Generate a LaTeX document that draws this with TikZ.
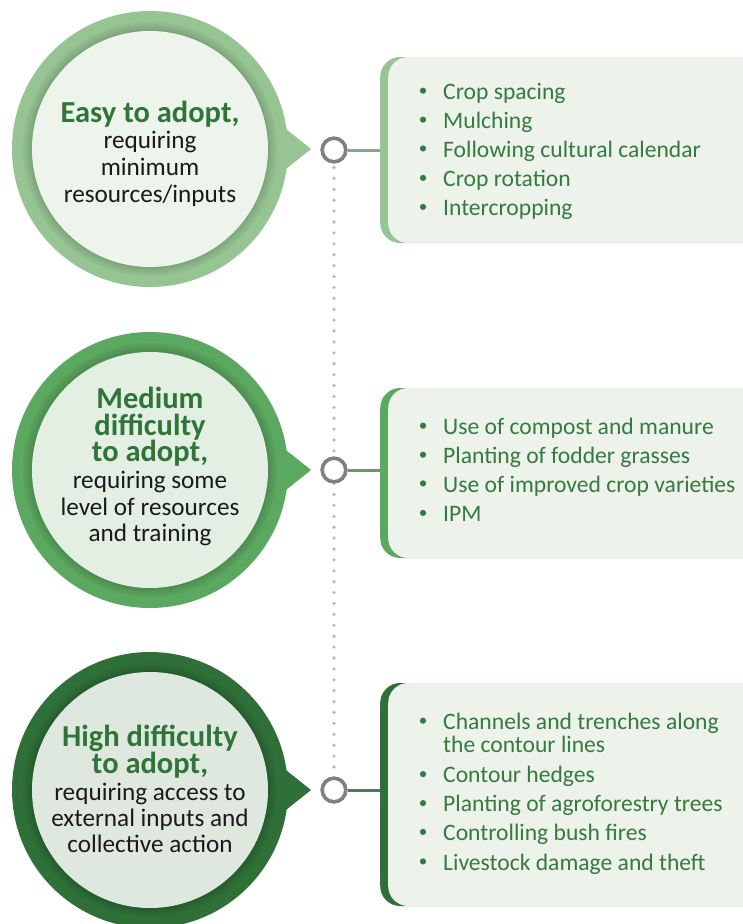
\documentclass[tikz,border=0pt]{standalone}
\usepackage{fontspec}
\setmainfont{Carlito}
\usetikzlibrary{calc}
\definecolor{ringA}{HTML}{96C493}
\definecolor{ringB}{HTML}{5BA860}
\definecolor{ringC}{HTML}{2F7038}
\definecolor{innerA}{HTML}{EDF4EC}
\definecolor{innerB}{HTML}{E3EFE2}
\definecolor{innerC}{HTML}{DFE8DE}
\definecolor{boxbg}{HTML}{EDF2EB}
\definecolor{hubgray}{HTML}{808080}
\definecolor{dotgray}{HTML}{B8B8B8}
\definecolor{tgreen}{HTML}{2F7538}
\definecolor{lgreen}{HTML}{357A3E}
\definecolor{tblack}{HTML}{1A1A1A}
\begin{document}
\begin{tikzpicture}[x=1pt,y=-1pt,
  ring/.style={circle, minimum size=276pt, inner sep=0pt, fill=#1},
  innerdisc/.style={circle, minimum size=236pt, inner sep=0pt, fill=#1},
  hub/.style={circle, minimum size=23.5pt, inner sep=0pt, draw=hubgray, line width=3.5pt, fill=white},
  panel/.style={rectangle, rounded corners=20pt, fill=#1, inner sep=0pt, minimum width=420pt, anchor=west,
    path picture={\fill[boxbg, rounded corners=20pt] ([xshift=8pt]path picture bounding box.south west) rectangle ([xshift=40pt]path picture bounding box.north east);}},
  link/.style={line width=3pt, draw=#1},
  dotline/.style={draw=dotgray, line width=3.6pt, line cap=round, dash pattern=on 0pt off 10.9pt},
  titletext/.style={anchor=base, inner sep=0pt, text=tgreen, font=\fontsize{30.5}{31}\selectfont\bfseries},
  bodytext/.style={anchor=base, inner sep=0pt, text=tblack, font=\fontsize{25.2}{26}\selectfont},
  itemtext/.style={anchor=base west, inner sep=0pt, text=lgreen, font=\fontsize{23.6}{28}\selectfont},
]
\useasboundingbox (0,0) rectangle (743,924);
\clip (0,0) rectangle (743,924);

% dotted spine
\node[hub] (h1) at (334,150) {};
\node[hub] (h2) at (334,470) {};
\node[hub] (h3) at (334,790) {};
\draw[dotline] ($(h1.south)+(0,4)$) -- (h3.north);

% panels
\node[panel=ringA, minimum height=186pt] (p1) at (380,150) {};
\node[panel=ringB, minimum height=170pt] (p2) at (380,473) {};
\node[panel=ringC, minimum height=223pt] (p3) at (380,794.5) {};

% connectors hub -> panel
\draw[link=hubgray!45!ringA] (h1.east) -- (h1.east -| p1.west);
\draw[link=hubgray!45!ringB] (h2.east) -- (h2.east -| p2.west);
\draw[link=hubgray!45!ringC] (h3.east) -- (h3.east -| p3.west);

% hubs on top
\node[hub] at (h1) {};
\node[hub] at (h2) {};
\node[hub] at (h3) {};

% circles
\foreach \n/\cy/\rc/\ic in {1/149/ringA/innerA, 2/470/ringB/innerB, 3/790/ringC/innerC}{
  \node[ring=\rc] (e\n) at (150,\cy) {};
  \fill[\rc] ($(e\n.center)+(9:136)$) -- ($(e\n.center)+(161,0)$) -- ($(e\n.center)+(-9:136)$) -- cycle;
  \foreach \r in {127,125,123,121,119.5}{
    \fill[black, opacity=0.03] (e\n.center) circle (\r pt);
  }
  \node[innerdisc=\ic] (i\n) at (e\n.center) {};
}

% circle texts
\node[titletext] (t1a) at (150,122) {Easy to adopt,};
\node[bodytext] (t1b) at (150,148.7) {requiring};
\node[bodytext] (t1c) at (150,175.3) {minimum};
\node[bodytext] (t1d) at (150,202) {resources/inputs};

\node[titletext] (t2a) at (150,408) {Medium};
\node[titletext] (t2b) at (150,435) {difficulty};
\node[titletext] (t2c) at (150,461.7) {to adopt,};
\node[bodytext] (t2d) at (150,488.4) {requiring some};
\node[bodytext] (t2e) at (150,515) {level of resources};
\node[bodytext] (t2f) at (150,541.7) {and training};

\node[titletext] (t3a) at (150,746) {High difficulty};
\node[titletext] (t3b) at (150,773) {to adopt,};
\node[bodytext] (t3c) at (150,800) {requiring access to};
\node[bodytext] (t3d) at (150,826) {external inputs and};
\node[bodytext] (t3e) at (150,852.5) {collective action};

% panel lists
\foreach \y/\t [count=\k] in {99.3/Crop spacing, 128.3/Mulching, 157/Following cultural calendar, 186.5/Crop rotation, 215.5/Intercropping}{
  \node[itemtext] (a\k) at (443,\y) {\t};
  \fill[lgreen] (423,\y-8.6) circle (3.1pt);
}
\foreach \y/\t [count=\k] in {434.3/Use of compost and manure, 463.3/Planting of fodder grasses, 492/Use of improved crop varieties, 521.5/IPM}{
  \node[itemtext] (b\k) at (443,\y) {\t};
  \fill[lgreen] (423,\y-8.6) circle (3.1pt);
}
\foreach \y/\t [count=\k] in {729.3/Channels and trenches along, 782.7/Contour hedges, 811.7/Planting of agroforestry trees, 840.5/Controlling bush fires, 870/Livestock damage and theft}{
  \node[itemtext] (c\k) at (443,\y) {\t};
  \fill[lgreen] (423,\y-8.6) circle (3.1pt);
}
\node[itemtext] (c1b) at (443,752.7) {the contour lines};
\end{tikzpicture}
\end{document}
